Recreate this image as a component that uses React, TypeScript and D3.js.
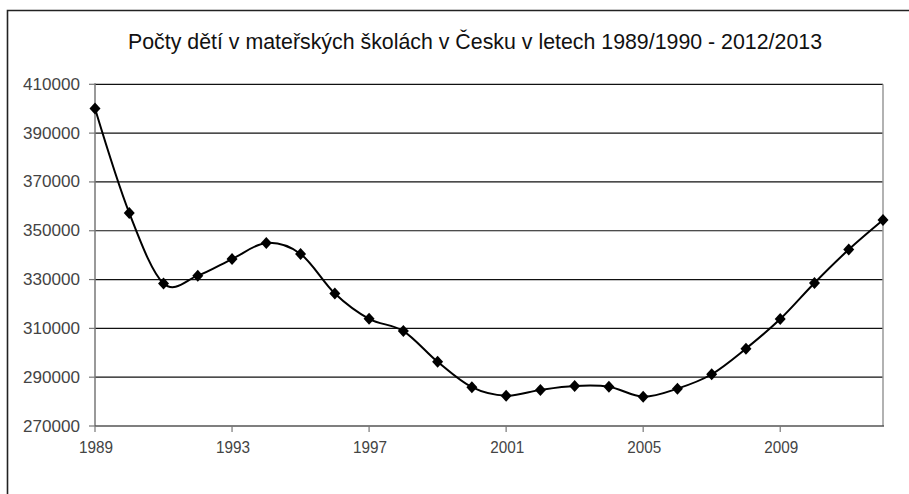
import React from "react";
import * as d3 from "d3";

const title = "Počty dětí v mateřských školách v Česku v letech 1989/1990 - 2012/2013";
const years = [1989, 1990, 1991, 1992, 1993, 1994, 1995, 1996, 1997, 1998, 1999, 2000, 2001, 2002, 2003, 2004, 2005, 2006, 2007, 2008, 2009, 2010, 2011, 2012];
const children = [400100, 357300, 328400, 331600, 338400, 345000, 340500, 324300, 313900, 308900, 296300, 285900, 282400, 284800, 286400, 286100, 282000, 285300, 291200, 301700, 313800, 328600, 342300, 354400];
const yTicks = [270000, 290000, 310000, 330000, 350000, 370000, 390000, 410000];
const xTickYears = [1989, 1993, 1997, 2001, 2005, 2009];

export default function App() {
  const W = 909, H = 494;
  const left = 95, right = 883, top = 84.3, bottom = 426;
  const x = d3.scaleLinear().domain([1989, 2012]).range([left, right]);
  const y = d3.scaleLinear().domain([270000, 410000]).range([bottom, top]);
  const line = d3.line<number>()
    .x((_, i) => x(years[i]))
    .y((d) => y(d))
    .curve(d3.curveCatmullRom.alpha(0));
  const pts = children.map((v, i) => [x(years[i]), y(v)] as [number, number]);
  const font = "'Liberation Sans', Arial, sans-serif";
  return (
    <svg width={W} height={H} style={{ position: "absolute", left: 0, top: 0 }}>
      <rect x={0} y={0} width={W} height={H} fill="#fff" />
      <path d={`M${7.5},${H} V${10.5} H${W}`} fill="none" stroke="#222" strokeWidth={1.6} />
      <text x={475} y={48.5} textAnchor="middle" fontFamily={font} fontSize={21.5} fill="#111"
        textLength={694} lengthAdjust="spacingAndGlyphs">{title}</text>
      {yTicks.map((t) => (
        <g key={t}>
          {t !== 270000 && <line x1={left} x2={right} y1={y(t)} y2={y(t)} stroke="#111" strokeWidth={1.2} />}
          <line x1={left - 6} x2={left} y1={y(t)} y2={y(t)} stroke="#777" strokeWidth={1.2} />
          <text x={80} y={y(t) + 5.5} textAnchor="end" fontFamily={font} fontSize={16} fill="#444"
            textLength={57} lengthAdjust="spacingAndGlyphs">{t}</text>
        </g>
      ))}
      <line x1={right} x2={right} y1={top} y2={bottom} stroke="#999" strokeWidth={1.5} />
      <line x1={left} x2={left} y1={top - 1} y2={bottom} stroke="#777" strokeWidth={1.5} />
      <line x1={left} x2={right + 1} y1={bottom} y2={bottom} stroke="#555" strokeWidth={1.5} />
      {xTickYears.map((yr) => (
        <g key={yr}>
          <line x1={x(yr)} x2={x(yr)} y1={bottom} y2={bottom + 6} stroke="#777" strokeWidth={1.2} />
          <text x={x(yr) + 1} y={bottom + 27} textAnchor="middle" fontFamily={font} fontSize={16} fill="#444"
            textLength={34} lengthAdjust="spacingAndGlyphs">{yr}</text>
        </g>
      ))}
      <path d={line(children) || ""} fill="none" stroke="#000" strokeWidth={2} />
      {pts.map(([px, py], i) => (
        <path key={i} d={`M${px},${py - 6} L${px + 5.5},${py} L${px},${py + 6} L${px - 5.5},${py} Z`} fill="#000" />
      ))}
    </svg>
  );
}
